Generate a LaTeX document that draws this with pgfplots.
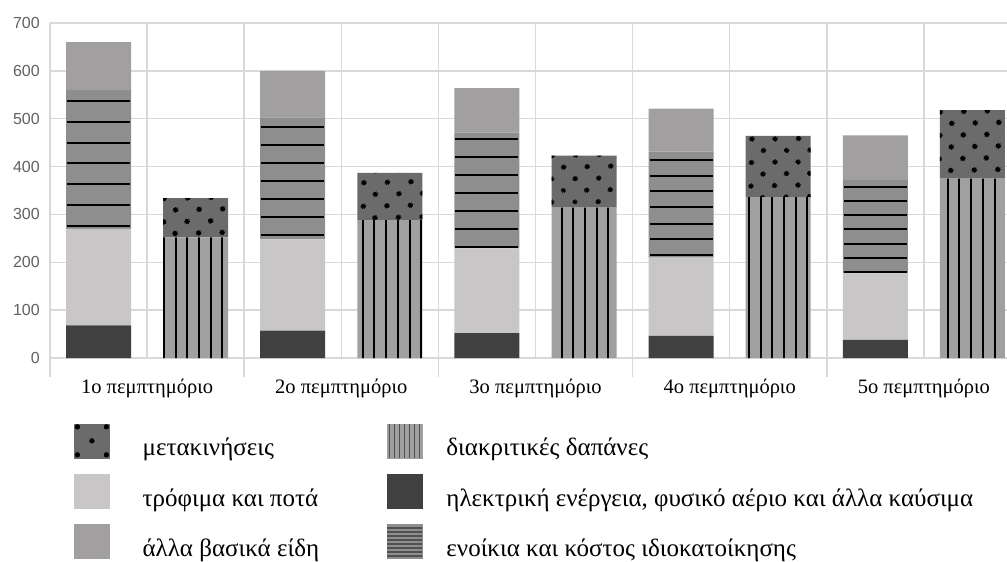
\documentclass[border=0pt]{standalone}
\usepackage{fontspec}
\setmainfont{Liberation Serif}
\newfontfamily\tickfont{Liberation Sans}
\usepackage{pgfplots}
\pgfplotsset{compat=1.18}
\usepackage{pgfplotstable}
\usetikzlibrary{patterns.meta}

\definecolor{gridc}{HTML}{D9D9D9}
\definecolor{elec}{HTML}{404040}
\definecolor{food}{HTML}{C8C6C7}
\definecolor{rent}{HTML}{8E8E8E}
\definecolor{other}{HTML}{A29FA0}
\definecolor{discr}{HTML}{A0A0A0}
\definecolor{trans}{HTML}{6B6B6B}
\definecolor{ticktext}{HTML}{606060}
\definecolor{iconline}{HTML}{505050}

% x: 0,2,4,6,8 = left bars (basic needs), 1,3,5,7,9 = right bars
\pgfplotstableread{
x elec food rent other discr trans
0 68 202 290 100 0 0
1 0 0 0 0 252 82
2 57 191 255 97 0 0
3 0 0 0 0 288 99
4 52 177 242 93 0 0
5 0 0 0 0 314 109
6 46 164 221 90 0 0
7 0 0 0 0 336 128
8 38 139 195 93 0 0
9 0 0 0 0 375 143
}\data

% black stripes inside the rent segments
\pgfplotstableread{
x y
0 537
0 494
0 450
0 407
0 363
0 320
0 276
2 482
2 445
2 407
2 369
2 332
2 294
2 257
4 458
4 420
4 382
4 344
4 307
4 269
4 231
6 414
6 381
6 348
6 315
6 281
6 248
6 215
8 358
8 328
8 298
8 269
8 239
8 209
8 179
}\rentlines

\pgfplotsset{
  common/.style={scale only axis, width=957pt, height=335pt,
    xmin=-0.5, xmax=9.356, ymin=0, ymax=700,
    at={(50pt,-358pt)}, anchor=south west},
}

\begin{document}
\begin{tikzpicture}
\path[use as bounding box] (0,0) rectangle (1007pt,-562pt);
\begin{axis}[common,
  ybar stacked, bar width=65pt,
  axis lines*=left,
  axis line style={gridc, line width=1.5pt},
  xtick={0.5,2.5,4.5,6.5,8.5},
  xticklabels={1ο πεμπτημόριο,2ο πεμπτημόριο,3ο πεμπτημόριο,4ο πεμπτημόριο,5ο πεμπτημόριο},
  minor xtick={-0.5,1.5,3.5,5.5,7.5,9.5},
  ytick={0,100,...,700},
  xmajorgrids, xminorgrids, ymajorgrids,
  major grid style={gridc, line width=1.5pt},
  minor grid style={gridc, line width=1.5pt},
  tick align=outside,
  major tick length=0pt, minor tick length=19pt,
  every tick/.style={gridc, line width=1.5pt},
  xtick pos=bottom, ytick pos=left,
  /pgf/number format/assume math mode=true,
  yticklabel style={font=\tickfont\fontsize{16}{16}\selectfont, text=ticktext, inner sep=0pt, anchor=east, xshift=-10pt},
  xticklabel style={font=\fontsize{20.5}{21}\selectfont, anchor=base, yshift=-35pt},
  legend columns=2,
  legend style={at={(axis description cs:0.02508,-0.19403)}, anchor=north west,
    draw=none, fill=none, inner sep=0pt, row sep=15.5pt, column sep=0pt,
    cells={anchor=base west},
    nodes={inner sep=0pt, font=\fontsize{25}{28}\selectfont}},
]
\addplot[fill=elec, draw=none, forget plot] table[x=x, y=elec] {\data};
\addplot[fill=food, draw=none, forget plot] table[x=x, y=food] {\data};
\addplot[fill=rent, draw=none, forget plot] table[x=x, y=rent] {\data};
\addplot[fill=other, draw=none, forget plot] table[x=x, y=other] {\data};
\addplot[fill=discr, draw=none, forget plot,
  postaction={pattern={Lines[angle=90, distance=11.7pt, line width=2pt]}, pattern color=black}]
  table[x=x, y=discr] {\data};
\addplot[fill=trans, draw=none, forget plot,
  postaction={pattern={Dots[angle=45, distance=17pt, radius=3pt]}, pattern color=black}]
  table[x=x, y=trans] {\data};

% legend (order as in the reference, row by row)
\addlegendimage{legend image code/.code={
  \fill[trans] (0pt,-2pt) rectangle (35pt,32pt);
  \fill[black] (3pt,29pt) circle (2.4pt) (32pt,29pt) circle (2.4pt) (17.5pt,15pt) circle (2.4pt)
               (3pt,1pt) circle (2.4pt) (32pt,1pt) circle (2.4pt);
  \path (68pt,0pt);}}
\addlegendentry{\makebox[244pt][l]{μετακινήσεις}}
\addlegendimage{legend image code/.code={
  \fill[discr] (0pt,-2pt) rectangle (35pt,32pt);
  \foreach \i in {2.5,7.5,...,32.5} {\draw[iconline, line width=1.3pt] (\i pt,-2pt) -- (\i pt,32pt);}
  \path (59pt,0pt);}}
\addlegendentry{διακριτικές δαπάνες}
\addlegendimage{legend image code/.code={
  \fill[food] (0pt,-2pt) rectangle (35pt,32pt);
  \path (68pt,0pt);}}
\addlegendentry{\makebox[244pt][l]{τρόφιμα και ποτά}}
\addlegendimage{legend image code/.code={
  \fill[elec] (0pt,-2pt) rectangle (35pt,32pt);
  \path (59pt,0pt);}}
\addlegendentry{ηλεκτρική ενέργεια, φυσικό αέριο και άλλα καύσιμα}
\addlegendimage{legend image code/.code={
  \fill[other] (0pt,-2pt) rectangle (35pt,32pt);
  \path (68pt,0pt);}}
\addlegendentry{\makebox[244pt][l]{άλλα βασικά είδη}}
\addlegendimage{legend image code/.code={
  \fill[rent] (0pt,-2pt) rectangle (35pt,32pt);
  \foreach \i in {0,4,...,28} {\draw[iconline, line width=1.3pt] (0pt,\i pt) -- (35pt,\i pt);}
  \path (59pt,0pt);}}
\addlegendentry{ενοίκια και κόστος ιδιοκατοίκησης}
\end{axis}

\begin{axis}[common, hide axis]
\addplot[only marks, mark=-, mark size=31.5pt, mark options={black, line width=2pt}]
  table[x=x, y=y] {\rentlines};
\end{axis}
\end{tikzpicture}
\end{document}
